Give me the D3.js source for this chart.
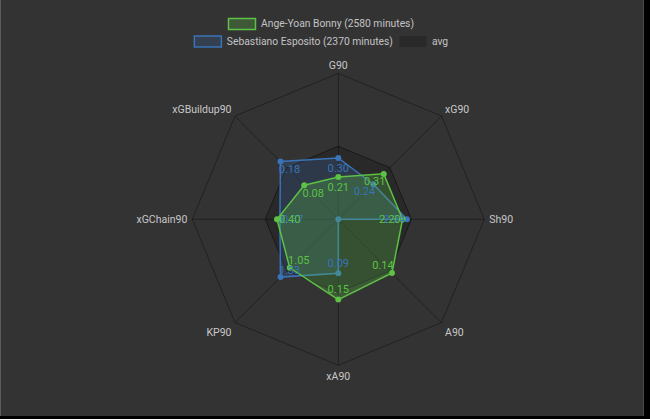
<!DOCTYPE html>
<html>
<head>
<meta charset="utf-8">
<script src="https://cdn.jsdelivr.net/npm/d3@7"></script>
<style>
  html, body { margin: 0; padding: 0; background: #000; }
  svg { display: block; }
  text { font-family: Roboto, "Noto Sans", sans-serif; }
</style>
</head>
<body>
<div id="chart"></div>
<script>
// axes, clockwise from the top
const axes = ['G90', 'xG90', 'Sh90', 'A90', 'xA90', 'KP90', 'xGChain90', 'xGBuildup90'];

// scaled score per axis (0-100) used for the radius
const bonnyScore = [29, 44, 44, 52, 55, 47, 42, 33];
const espositoScore = [42, 34, 47, 0, 37, 56, 40, 56];
const avgScore = [50, 50, 50, 50, 50, 50, 50, 50];

// raw per-90 values shown as point labels
const bonnyValues = [0.21, 0.31, 2.20, 0.14, 0.15, 1.05, 0.40, 0.08];
const espositoValues = [0.30, 0.24, 2.34, 0.00, 0.09, 1.33, 0.37, 0.18];

const seriesNames = ['Ange-Yoan Bonny (2580 minutes)', 'Sebastiano Esposito (2370 minutes)', 'avg'];
const ringTicks = [50, 100];

const width = 650, height = 419;
const cx = 338.3, cy = 219.3, R = 146;
const legendCx = 321;

const svg = d3.select('#chart').append('svg')
  .attr('width', width)
  .attr('height', height);

// background with the thin frame of the screenshot
svg.append('rect').attr('width', width).attr('height', height).attr('fill', '#000');
svg.append('rect').attr('width', 644).attr('height', 416).attr('fill', '#333334');
svg.append('line').attr('x1', 0.5).attr('x2', 0.5).attr('y1', 0).attr('y2', 416).attr('stroke', '#5a5a5a');
svg.append('line').attr('x1', 643.5).attr('x2', 643.5).attr('y1', 0).attr('y2', 416).attr('stroke', '#4a4a4a');

const r = d3.scaleLinear().domain([0, 100]).range([0, R]);
const angle = d3.scalePoint().domain(axes).range([0, 2 * Math.PI * (axes.length - 1) / axes.length]);

const pt = (axis, v) => {
  const a = angle(axis);
  return [cx + r(v) * Math.sin(a), cy - r(v) * Math.cos(a)];
};

const g = svg.append('g');

// grid rings
ringTicks.forEach(t => {
  g.append('polygon')
    .attr('points', axes.map(a => pt(a, t).join(',')).join(' '))
    .attr('fill', 'none')
    .attr('stroke', 'rgba(0,0,0,0.35)')
    .attr('stroke-width', 1);
});

// spokes
axes.forEach(a => {
  const [x, y] = pt(a, 100);
  g.append('line')
    .attr('x1', cx).attr('y1', cy).attr('x2', x).attr('y2', y)
    .attr('stroke', 'rgba(0,0,0,0.35)')
    .attr('stroke-width', 1);
});

// axis labels
axes.forEach(a => {
  const ang = angle(a);
  const dx = Math.sin(ang), dy = -Math.cos(ang);
  const [x, y] = pt(a, 100);
  const off = 5;
  let anchor = 'middle';
  if (dx > 0.1) anchor = 'start';
  if (dx < -0.1) anchor = 'end';
  let shift = '0.35em';
  if (dy < -0.1) shift = '0.05em';
  if (dy > 0.1) shift = '0.9em';
  g.append('text')
    .attr('x', x + dx * off)
    .attr('y', y + dy * off)
    .attr('dy', shift)
    .attr('text-anchor', anchor)
    .attr('fill', '#c8c8c8')
    .attr('font-size', 10.5)
    .text(a);
});

const line = d3.line().curve(d3.curveLinearClosed);

const datasets = [
  { name: seriesNames[2], score: avgScore, values: null, stroke: 'rgba(0,0,0,0.15)', fill: 'rgba(0,0,0,0.18)' },
  { name: seriesNames[1], score: espositoScore, values: espositoValues, stroke: '#3a73b8', fill: 'rgba(58,115,184,0.22)' },
  { name: seriesNames[0], score: bonnyScore, values: bonnyValues, stroke: '#5cc145', fill: 'rgba(92,193,69,0.27)' }
];

datasets.forEach(ds => {
  const pts = axes.map((a, i) => pt(a, ds.score[i]));
  g.append('path')
    .attr('d', line(pts))
    .attr('fill', ds.fill)
    .attr('stroke', ds.stroke)
    .attr('stroke-width', ds.values ? 1.5 : 1);
  if (!ds.values) return;
  g.selectAll(null).data(pts).enter().append('circle')
    .attr('cx', d => d[0]).attr('cy', d => d[1])
    .attr('r', 3)
    .attr('fill', ds.stroke);
});

// point labels, pushed toward the centre
datasets.forEach(ds => {
  if (!ds.values) return;
  axes.forEach((a, i) => {
    if (ds.score[i] === 0) return;
    const ang = angle(a);
    const dx = -Math.sin(ang), dy = Math.cos(ang);
    const [x, y] = pt(a, ds.score[i]);
    const t = g.append('text')
      .attr('fill', ds.stroke)
      .attr('font-size', 11)
      .attr('text-anchor', 'middle')
      .attr('dy', '0.35em')
      .text(ds.values[i].toFixed(2));
    const w = t.node().getComputedTextLength();
    t.attr('x', x + dx * (w / 2 + 2))
      .attr('y', y + dy * (6 + 4.5));
  });
});

// legend
const legend = svg.append('g').attr('font-size', 10.3).attr('fill', '#c4c4c4');
const rows = [
  [datasets[2]],
  [datasets[1], datasets[0]]
];
const boxW = 27, boxH = 11, gap = 6, itemGap = 6;
rows.forEach((row, ri) => {
  const y = 18 + ri * 17.5;
  const items = row.map(ds => {
    const t = legend.append('text').attr('y', y + boxH / 2).attr('dy', '0.35em').text(ds.name);
    return { ds, t, w: t.node().getComputedTextLength() };
  });
  const total = d3.sum(items, d => boxW + gap + d.w) + itemGap * (items.length - 1);
  let x = legendCx - total / 2;
  items.forEach(it => {
    legend.append('rect')
      .attr('x', x + 0.5).attr('y', y + 0.5)
      .attr('width', boxW).attr('height', boxH)
      .attr('fill', it.ds.fill)
      .attr('stroke', it.ds.values ? it.ds.stroke : 'none')
      .attr('stroke-width', 1.5);
    it.t.attr('x', x + boxW + gap);
    x += boxW + gap + it.w + itemGap;
  });
});
</script>
</body>
</html>
